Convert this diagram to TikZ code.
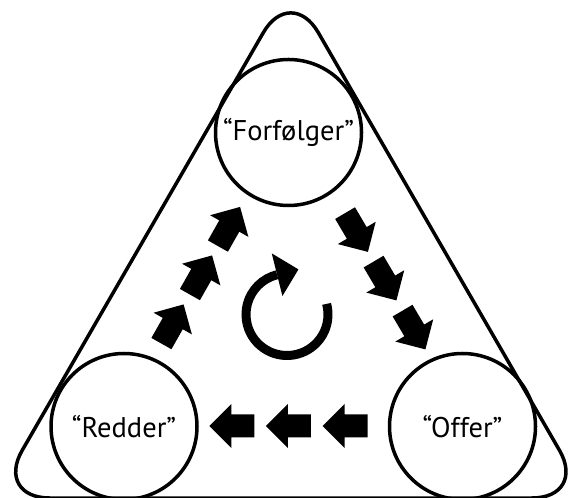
\documentclass[tikz,border=0pt]{standalone}
\usepackage{fontspec}
\setmainfont{PT Sans}
\usetikzlibrary{calc}

\begin{document}
\begin{tikzpicture}[x=1pt,y=1pt,
        role/.style={draw, circle, line width=3.5pt, minimum size=146pt, inner sep=0pt,
                     font=\fontsize{28.5}{32}\selectfont},
        blockarrow/.pic={\fill (-22.5,-11.5)--(0.5,-11.5)--(0.5,-22)--(22.5,0)
                               --(0.5,22)--(0.5,11.5)--(-22.5,11.5)--cycle;}]
        \useasboundingbox (0,0) rectangle (569,497);

        % rounded frame
        \draw[line width=3.5pt, rounded corners=55pt]
          (290.8,-1)--(587,-1)--(290.8,512)--(-5.3,-1)--cycle;

        % the three roles
        \node[role] (chaser)  at (288.5,364.5) {“Forfølger”};
        \node[role] (rescuer) at (124,70.5)    {“Redder”};
        \node[role] (victim)  at (462.5,70.5)  {“Offer”};

        % Redder -> Forfolger
        \foreach \x/\y in {172.5/173, 201/222, 229/270.5}
          \pic[rotate=60.5] at (\x,\y) {blockarrow};
        % Forfolger -> Offer
        \foreach \x/\y in {356.5/264.5, 385/216, 414/167}
          \pic[rotate=-59.5] at (\x,\y) {blockarrow};
        % Offer -> Redder
        \foreach \x in {231.8, 288.3, 345.2}
          \pic[rotate=180] at (\x,71) {blockarrow};

        % turning arrow in the middle
        \coordinate (spin) at (287,182.5);
        \draw[line width=9pt] (spin) ++(15:41) arc[start angle=15, end angle=-256, radius=41];
        \fill ($(spin)+(104:19)$)--($(spin)+(104:63)$)--($(spin)+(104:41)+(14:22)$)--cycle;
      \end{tikzpicture}
\end{document}
